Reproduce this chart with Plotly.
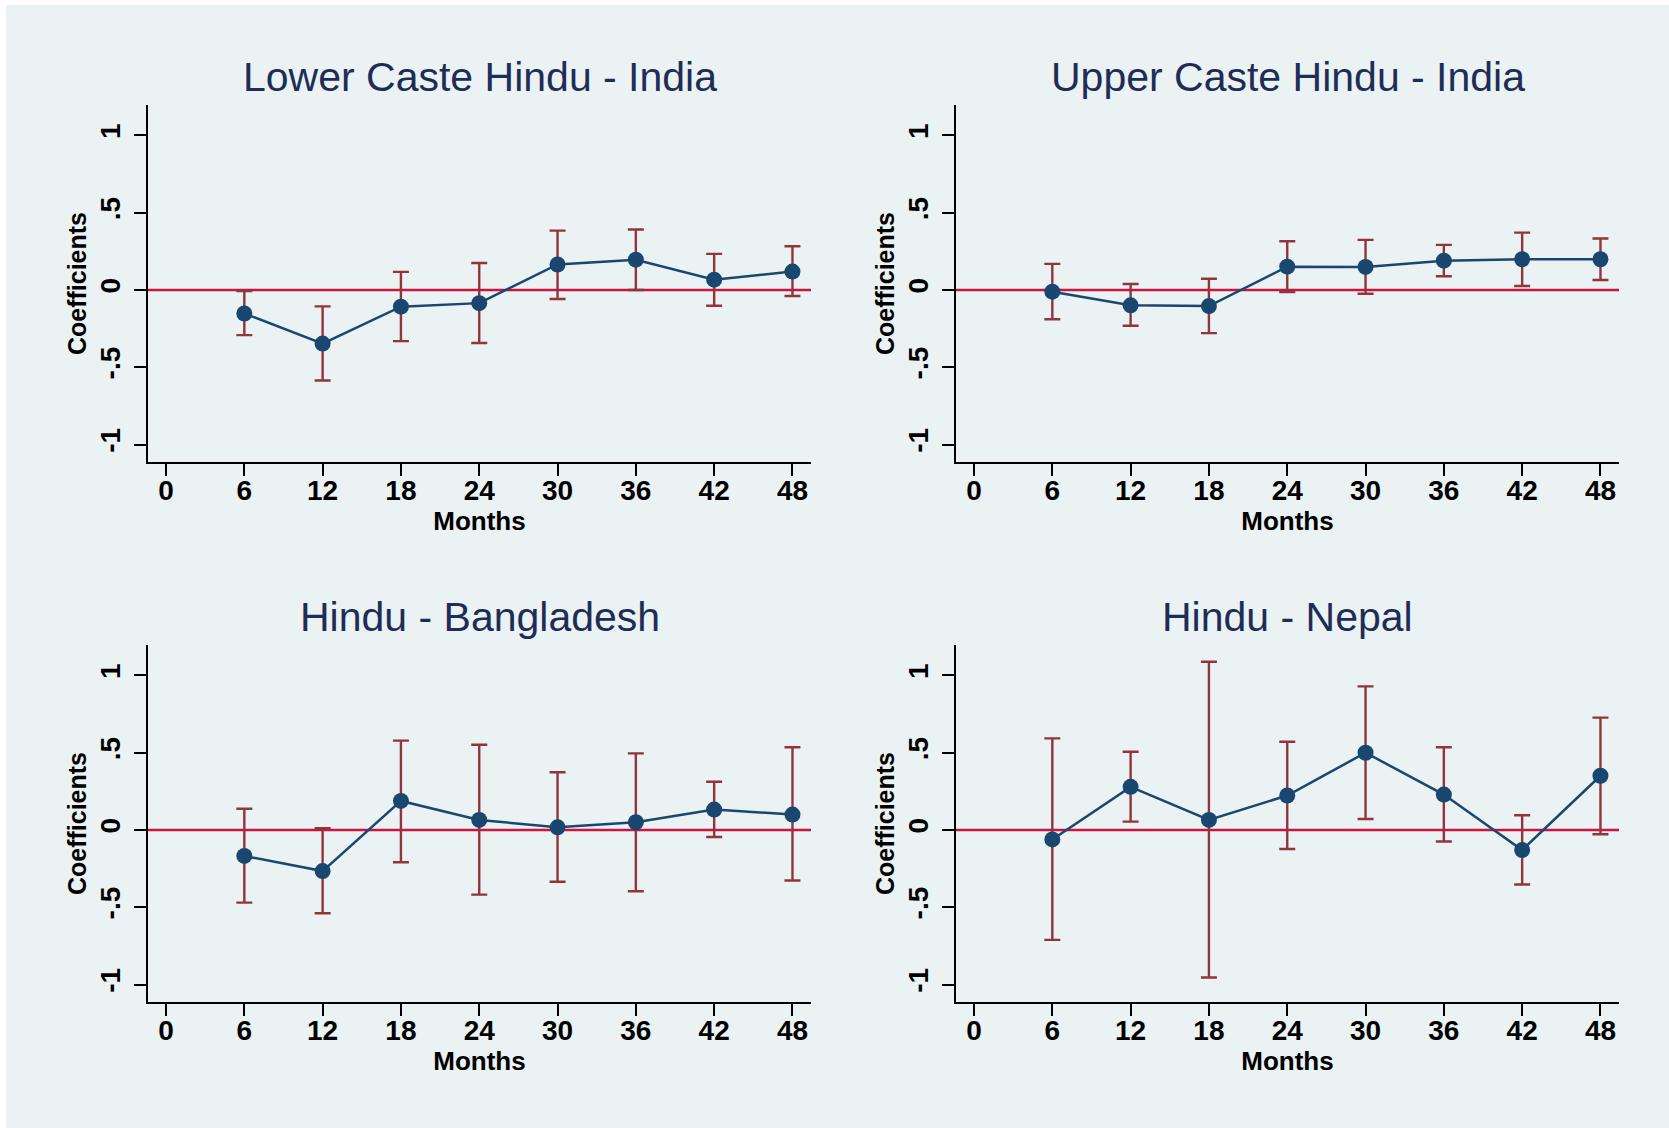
import plotly.graph_objects as go

# ---------------- data ----------------
months = [6, 12, 18, 24, 30, 36, 42, 48]
x_ticks = [0, 6, 12, 18, 24, 30, 36, 42, 48]
y_ticks = [-1, -0.5, 0, 0.5, 1]
y_tick_labels = ["-1", "-.5", "0", ".5", "1"]

titles = ["Lower Caste Hindu - India", "Upper Caste Hindu - India",
          "Hindu - Bangladesh", "Hindu - Nepal"]

lower_coef = [-0.152, -0.347, -0.108, -0.085, 0.165, 0.196, 0.067, 0.119]
lower_lo = [-0.292, -0.586, -0.331, -0.343, -0.058, 0.0, -0.102, -0.039]
lower_hi = [-0.007, -0.106, 0.117, 0.175, 0.384, 0.391, 0.234, 0.283]

upper_coef = [-0.011, -0.099, -0.104, 0.151, 0.149, 0.190, 0.199, 0.199]
upper_lo = [-0.189, -0.231, -0.279, -0.013, -0.024, 0.089, 0.026, 0.065]
upper_hi = [0.169, 0.039, 0.073, 0.315, 0.324, 0.292, 0.371, 0.333]

bangla_coef = [-0.168, -0.266, 0.188, 0.065, 0.017, 0.050, 0.132, 0.100]
bangla_lo = [-0.470, -0.539, -0.209, -0.418, -0.335, -0.396, -0.045, -0.327]
bangla_hi = [0.137, 0.011, 0.578, 0.552, 0.374, 0.496, 0.312, 0.535]

nepal_coef = [-0.061, 0.279, 0.065, 0.223, 0.500, 0.229, -0.130, 0.351]
nepal_lo = [-0.711, 0.054, -0.954, -0.123, 0.071, -0.074, -0.353, -0.028]
nepal_hi = [0.593, 0.506, 1.089, 0.571, 0.929, 0.535, 0.095, 0.727]

panels = [
    (lower_coef, lower_lo, lower_hi),
    (upper_coef, upper_lo, upper_hi),
    (bangla_coef, bangla_lo, bangla_hi),
    (nepal_coef, nepal_lo, nepal_hi),
]

# ---------------- style ----------------
W, H = 1669, 1128
BG = "#EAF2F3"
NAVY = "#1A476F"
MAROON = "#90353B"
REDLINE = "#CC1440"
TITLE_C = "#1F2D56"
FONT = "Liberation Sans, Arial, sans-serif"
TICKFONT = dict(size=28, family=FONT, color="black", weight="bold")

# pixel boxes of plot areas: (left, right, top, bottom)
boxes = [(148, 811, 105, 462), (956, 1619, 105, 462),
         (148, 811, 645, 1002), (956, 1619, 645, 1002)]

fig = go.Figure()

layout = dict(
    width=W, height=H, autosize=False,
    margin=dict(l=0, r=0, t=0, b=0),
    paper_bgcolor="white", plot_bgcolor="white",
    showlegend=False,
    font=dict(family=FONT, color="black"),
    shapes=[dict(type="rect", xref="paper", yref="paper",
                 x0=6 / W, x1=1, y0=0, y1=1 - 5 / H,
                 fillcolor=BG, line=dict(width=0), layer="below")],
    annotations=[],
)

for i, ((coef, lo, hi), title, box) in enumerate(zip(panels, titles, boxes)):
    n = i + 1
    xa = "xaxis" if n == 1 else f"xaxis{n}"
    ya = "yaxis" if n == 1 else f"yaxis{n}"
    xr = "x" if n == 1 else f"x{n}"
    yr = "y" if n == 1 else f"y{n}"
    l, r, t, b = box
    layout[xa] = dict(
        domain=[l / W, r / W], anchor=yr, range=[-1.38, 49.42],
        tickmode="array", tickvals=x_ticks, ticktext=[str(v) for v in x_ticks],
        ticks="outside", ticklen=12, tickwidth=1.5, tickcolor="black",
        ticklabelstandoff=-10,
        showline=True, linecolor="black", linewidth=2,
        showgrid=False, zeroline=False,
        tickfont=TICKFONT,
        title=dict(text="Months",
                   font=dict(size=26, family=FONT, color="black", weight="bold"),
                   standoff=0),
    )
    layout[ya] = dict(
        domain=[1 - b / H, 1 - t / H], anchor=xr, range=[-1.113, 1.197],
        tickmode="array", tickvals=y_ticks, ticktext=y_tick_labels,
        tickangle=-90,
        ticks="outside", ticklen=12, tickwidth=1.5, tickcolor="black",
        ticklabelstandoff=3,
        showline=True, linecolor="black", linewidth=2,
        showgrid=False, zeroline=False,
        tickfont=TICKFONT,
        title=dict(text="Coefficients",
                   font=dict(size=25, family=FONT, color="black", weight="bold"),
                   standoff=1),
    )
    layout["annotations"].append(dict(
        text=title, xref="paper", yref="paper",
        x=(l + r) / 2 / W, y=1 - (t - 28) / H, xanchor="center", yanchor="middle",
        showarrow=False, font=dict(size=41, family=FONT, color=TITLE_C),
    ))
    # horizontal gridlines at the non-zero ticks
    for v in y_ticks:
        if v != 0:
            layout["shapes"].append(dict(
                type="line", xref=f"{xr} domain", yref=yr, x0=0, x1=1, y0=v, y1=v,
                line=dict(color=BG, width=2.5), layer="below",
            ))
    # reference line at zero
    layout["shapes"].append(dict(
        type="line", xref=f"{xr} domain", yref=yr, x0=0, x1=1, y0=0, y1=0,
        line=dict(color=REDLINE, width=2.5), layer="below",
    ))
    # error bars
    fig.add_trace(go.Scatter(
        x=months, y=coef, mode="markers", xaxis=xr, yaxis=yr,
        marker=dict(size=1, color="rgba(0,0,0,0)"),
        error_y=dict(type="data", symmetric=False,
                     array=[h - c for h, c in zip(hi, coef)],
                     arrayminus=[c - lo_ for c, lo_ in zip(coef, lo)],
                     color=MAROON, thickness=2.4, width=8),
        hoverinfo="skip",
    ))
    # coefficients
    fig.add_trace(go.Scatter(
        x=months, y=coef, mode="lines+markers", xaxis=xr, yaxis=yr,
        line=dict(color=NAVY, width=2.5),
        marker=dict(size=16, color=NAVY),
    ))

fig.update_layout(**layout)
fig.write_html("out.html",
               config={"displayModeBar": False},
               post_script="document.body.style.margin='0';document.body.style.overflow='hidden';")
